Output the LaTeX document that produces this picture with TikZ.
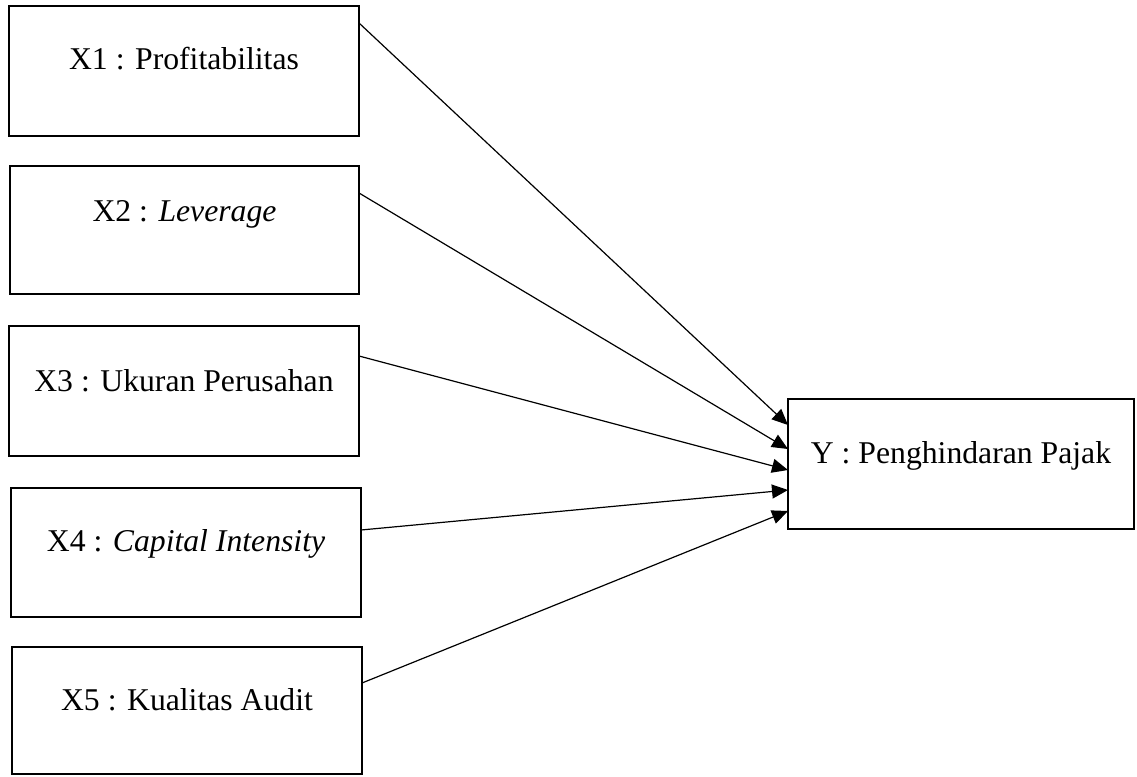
\documentclass[tikz,border=0pt]{standalone}
\usepackage{fontspec}
\setmainfont{Liberation Serif}
\usetikzlibrary{arrows.meta}
\tikzset{
  box/.style={draw=black, line width=2pt, inner sep=0pt, outer sep=0pt, fill=white},
  lbl/.style={anchor=base, inner sep=0pt, font=\fontsize{31.7}{38}\selectfont},
  conn/.style={line width=1.2pt, -{Triangle[length=16pt,width=14pt]}}
}
\begin{document}
\begin{tikzpicture}[x=1pt,y=-1pt]
\useasboundingbox (0,0) rectangle (1137,776);
\node[box, minimum width=350pt, minimum height=130pt] (b1) at (184,71) {};
\node[box, minimum width=349pt, minimum height=128pt] (b2) at (184.5,230) {};
\node[box, minimum width=350pt, minimum height=130pt] (b3) at (184,391) {};
\node[box, minimum width=350pt, minimum height=129pt] (b4) at (186,552.5) {};
\node[box, minimum width=350pt, minimum height=127pt] (b5) at (187,710.5) {};
\node[box, minimum width=346pt, minimum height=130pt] (y) at (961,464) {};
\node[lbl] (t1) at (184,70) {X1 : Profitabilitas};
\node[lbl] (t2) at (184.5,221) {X2 : \textit{Leverage}};
\node[lbl] (t3) at (184,391) {X3 : Ukuran Perusahan};
\node[lbl] (t4) at (186,551) {X4 : \textit{Capital Intensity}};
\node[lbl] (t5) at (187,710) {X5 : Kualitas Audit};
\node[lbl] (ty) at (961,463) {Y : Penghindaran Pajak};
\draw[conn] ([yshift=-17pt]b1.north east) -- ([yshift=39pt]y.west);
\draw[conn] ([yshift=-27pt]b2.north east) -- ([yshift=15pt]y.west);
\draw[conn] ([yshift=-30pt]b3.north east) -- ([yshift=-6pt]y.west);
\draw[conn] ([yshift=-42pt]b4.north east) -- ([yshift=-26pt]y.west);
\draw[conn] ([yshift=-36pt]b5.north east) -- ([yshift=-47pt]y.west);
\end{tikzpicture}
\end{document}
